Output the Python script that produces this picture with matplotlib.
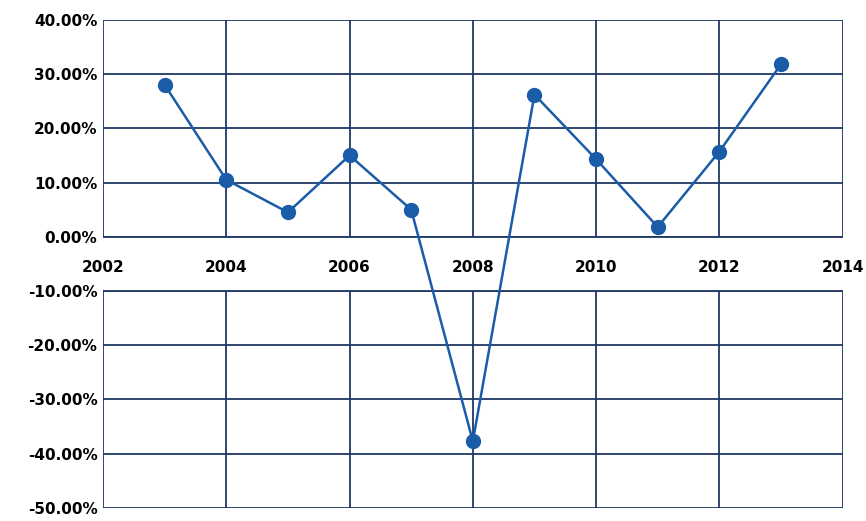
import matplotlib.pyplot as plt
import numpy as np

years = [2003, 2004, 2005, 2006, 2007, 2008, 2009, 2010, 2011, 2012, 2013]
returns = [28.0, 10.5, 4.5, 15.0, 5.0, -37.7, 26.2, 14.3, 1.8, 15.7, 31.8]
xticks = [2002, 2004, 2006, 2008, 2010, 2012, 2014]
yticks = [40, 30, 20, 10, 0, -10, -20, -30, -40, -50]

GRID = "#1f3864"
LINE = "#1a5ca8"

fig = plt.figure(figsize=(8.66, 5.21), dpi=100)
ax = fig.add_axes([0.119, 0.025, 0.854, 0.937])
ax.set_xlim(2002, 2014)
ax.set_ylim(-50, 40)
ax.set_xticks(xticks)
ax.set_yticks(yticks)
ax.set_yticklabels([f"{v:.2f}%" for v in yticks], fontweight="bold", fontsize=11)
ax.set_xticklabels([])
ax.tick_params(length=0, pad=4)
ax.grid(True, color=GRID, lw=1.3)
ax.set_axisbelow(True)
for s in ax.spines.values():
    s.set_visible(False)
# blank band holding the year labels
ax.axhspan(-10, 0, color="white", zorder=1.5, lw=0)
ax.axhline(0, color=GRID, lw=1.3, zorder=1.6)
ax.axhline(-10, color=GRID, lw=1.3, zorder=1.6)
for x in xticks:
    ax.text(x, -5.7, str(x), ha="center", va="center", fontweight="bold",
            fontsize=11, zorder=2)
ax.plot(years, returns, color=LINE, lw=1.8, marker="o", ms=10, zorder=3)
fig.savefig("out.png")
